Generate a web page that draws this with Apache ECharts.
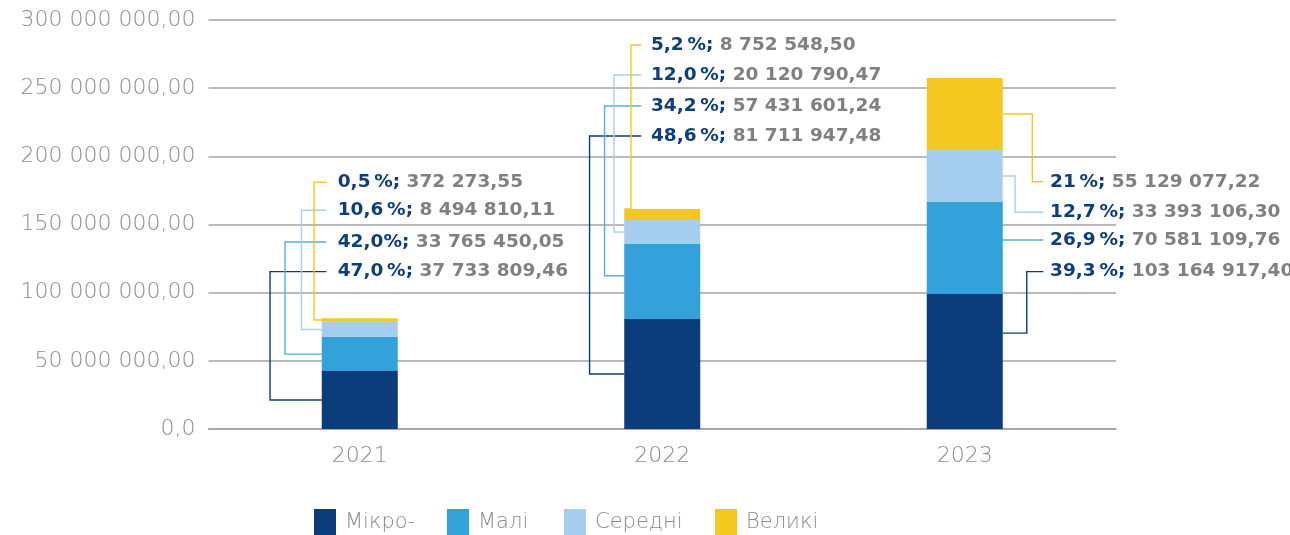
<!DOCTYPE html>
<html>
<head>
<meta charset="utf-8">
<script src="https://cdn.jsdelivr.net/npm/echarts@6/dist/echarts.min.js"></script>
<style>
  html, body { margin: 0; padding: 0; background: #ffffff; }
  #chart { width: 1290px; height: 535px; }
</style>
</head>
<body>
<div id="chart"></div>
<script>
// ---------- DATA ----------
const years = ['2021', '2022', '2023'];
const seriesNames = ['Мікро-', 'Малі', 'Середні', 'Великі'];
const yTicks = [0, 50000000, 100000000, 150000000, 200000000, 250000000, 300000000];

// bar heights as drawn
const mikro   = [42500000, 80700000, 99000000];
const mali    = [24900000, 55000000, 67500000];
const seredni = [11200000, 17600000, 38100000];
const velyki  = [2700000, 8100000, 52800000];

// callout texts
const mikroPct   = ['47,0\u2009%;', '48,6\u2009%;', '39,3\u2009%;'];
const mikroAmt   = ['37 733 809,46', '81 711 947,48', '103 164 917,40'];
const maliPct    = ['42,0%;', '34,2\u2009%;', '26,9\u2009%;'];
const maliAmt    = ['33 765 450,05', '57 431 601,24', '70 581 109,76'];
const serednPct  = ['10,6\u2009%;', '12,0\u2009%;', '12,7\u2009%;'];
const serednAmt  = ['8 494 810,11', '20 120 790,47', '33 393 106,30'];
const velykiPct  = ['0,5\u2009%;', '5,2\u2009%;', '21\u2009%;'];
const velykiAmt  = ['372 273,55', '8 752 548,50', '55 129 077,22'];

// ---------- STYLE / LAYOUT ----------
const colors = ['#0b3d7d', '#34a2da', '#a4cdee', '#f5c81f'];
const lineColors = ['#0b3d7d', '#4fb0e2', '#a9d0ef', '#f5c81f'];
const axisFont = 'DejaVu Sans';
const labelFont = 'DejaVu Sans';
const barWidth = 76;
const legendLefts = [314, 447, 564, 715];

// per-year callout layout: side of bar, label levels (axis values), elbow offsets (px, outward), anchor fraction within segment (null = level with label)
const calloutLayout = [
  { side: 'left',  levels: [115.4e6, 137.2e6, 160.4e6, 181.0e6], elbow: [51.7, 36.7, 20.3, 7.7], anchor: [0.5, 0.5, 0.5, 0.5], lineEnd: 4.7, textX: 16 },
  { side: 'left',  levels: [214.9e6, 236.9e6, 259.7e6, 281.7e6], elbow: [34.7, 19.7, 10.3, -6.7], anchor: [0.5, 0.577, 0.5, 1.0], lineEnd: 17, textX: 26.7 },
  { side: 'right', levels: [115.4e6, 138.6e6, 159.0e6, 181.4e6], elbow: [24, 12, 12.3, 29.6], anchor: [0.71, null, 0.5, 0.5], lineEnd: 40.6, textX: 47.3 }
];

function fmtTick(v) {
  if (v === 0) return '0,0';
  return String(v).replace(/\B(?=(\d{3})+(?!\d))/g, ' ') + ',00';
}

const chart = echarts.init(document.getElementById('chart'), null, { renderer: 'canvas' });
const seriesData = [mikro, mali, seredni, velyki];

chart.setOption({
  animation: false,
  backgroundColor: '#ffffff',
  grid: { left: 208.5, right: 174, top: 20, bottom: 106, containLabel: false },
  xAxis: {
    type: 'category',
    data: years,
    axisLine: { show: true, lineStyle: { color: '#a3a3a3', width: 1.5 } },
    axisTick: { show: false },
    axisLabel: { color: '#8c8c8c', fontSize: 22, fontFamily: axisFont, fontWeight: 200, margin: 16 }
  },
  yAxis: {
    type: 'value',
    min: yTicks[0],
    max: yTicks[yTicks.length - 1],
    interval: yTicks[1] - yTicks[0],
    axisLine: { show: false },
    axisTick: { show: false },
    splitLine: { lineStyle: { color: '#a3a3a3', width: 1.5 } },
    axisLabel: { color: '#8c8c8c', fontSize: 22, fontFamily: axisFont, fontWeight: 200, margin: 13, formatter: fmtTick }
  },
  legend: seriesNames.map((name, i) => ({
    data: [name],
    left: legendLefts[i],
    top: 509,
    padding: 0,
    icon: 'rect',
    itemWidth: 22,
    itemHeight: 28,
    textStyle: { color: '#8c8c8c', fontSize: 21, fontFamily: axisFont, fontWeight: 200, padding: [0, 0, 0, 4] }
  })),
  series: seriesNames.map((name, i) => ({
    name: name,
    type: 'bar',
    stack: 'total',
    barWidth: barWidth,
    data: seriesData[i],
    itemStyle: { color: colors[i] }
  }))
});

// ---------- CALLOUTS (positions from the library's scales) ----------
const pctArrays = [mikroPct, maliPct, serednPct, velykiPct];
const amtArrays = [mikroAmt, maliAmt, serednAmt, velykiAmt];
const graphics = [];
years.forEach((yr, ci) => {
  const lay = calloutLayout[ci];
  let base = 0;
  for (let si = 0; si < seriesNames.length; si++) {
    const v = seriesData[si][ci];
    const bottomPx = chart.convertToPixel({ gridIndex: 0 }, [ci, base]);
    const topPx = chart.convertToPixel({ gridIndex: 0 }, [ci, base + v]);
    base += v;
    const cx = bottomPx[0];
    const half = barWidth / 2;
    const labelY = chart.convertToPixel({ gridIndex: 0 }, [ci, lay.levels[si]])[1];
    const dir = lay.side === 'left' ? -1 : 1;
    const edgeX = cx + dir * half;
    const anchorY = lay.anchor[si] === null ? labelY : bottomPx[1] + (topPx[1] - bottomPx[1]) * lay.anchor[si];
    const elbowX = edgeX + dir * lay.elbow[si];
    const endX = edgeX + lay.lineEnd;
    const pts = lay.anchor[si] === null
      ? [[edgeX, labelY], [endX, labelY]]
      : [[edgeX, anchorY], [elbowX, anchorY], [elbowX, labelY], [endX, labelY]];
    graphics.push({
      type: 'polyline',
      silent: true,
      z: 100,
      shape: { points: pts },
      style: { stroke: lineColors[si], lineWidth: 1.4, fill: null }
    });
    graphics.push({
      type: 'text',
      silent: true,
      z: 100,
      x: edgeX + lay.textX,
      y: labelY,
      style: {
        text: '{p|' + pctArrays[si][ci] + '} {v|' + amtArrays[si][ci] + '}',
        verticalAlign: 'middle',
        align: 'left',
        rich: {
          p: { fontFamily: labelFont, fontWeight: 'bold', fontSize: 18.5, fill: '#0d3e7e', color: '#0d3e7e' },
          v: { fontFamily: labelFont, fontWeight: 'bold', fontSize: 18.5, fill: '#808080', color: '#808080' }
        },
        fontFamily: labelFont,
        fontSize: 18.5,
        fontWeight: 'bold'
      }
    });
  }
});
chart.setOption({ graphic: graphics });
</script>
</body>
</html>
